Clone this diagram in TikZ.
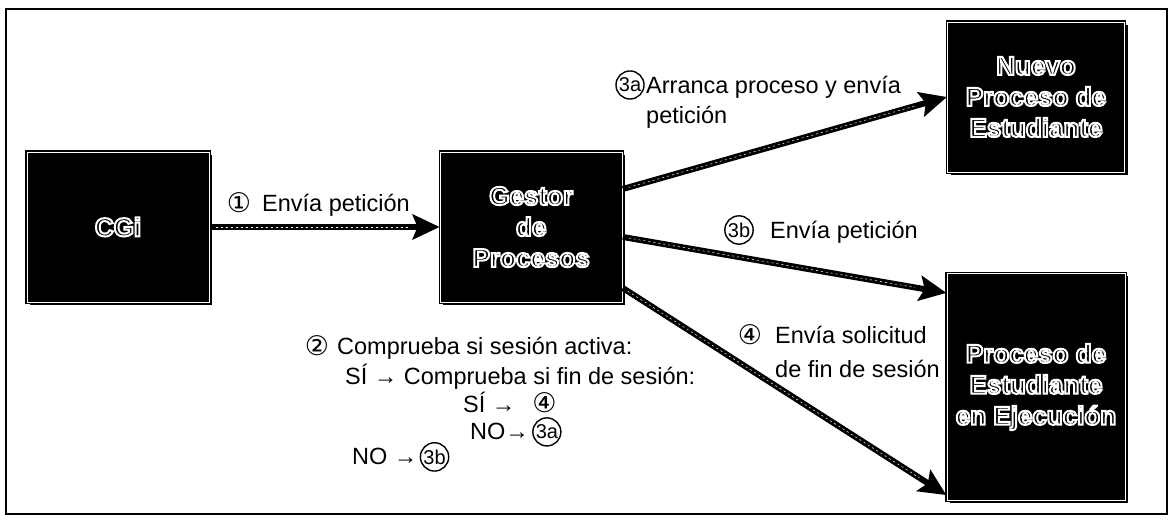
\documentclass[tikz,border=0pt]{standalone}
\usepackage{fontspec}
\setmainfont{Liberation Sans}
\newfontfamily\symfont{DejaVu Sans}
\usetikzlibrary{arrows.meta,positioning,calc,shadows}

% hollow lettering: glyph outlines stroked in white
\newcommand{\outl}[1]{\special{pdf:literal direct 1 Tr 2 w 1 1 1 RG}#1\special{pdf:literal direct 0 Tr}}

\begin{document}
\begin{tikzpicture}[x=1pt, y=1pt,
  procbox/.style={rectangle, fill=black, draw=black, double=white,
                  double distance=0.8pt, line width=1.2pt,
                  drop shadow={shadow xshift=3pt, shadow yshift=-3pt,
                               fill=black, opacity=1},
                  align=center, inner sep=0pt,
                  font=\bfseries\fontsize{26}{31}\selectfont},
  lbl/.style={inner sep=0pt, align=left, font=\fontsize{23.5}{30}\selectfont},
  numlbl/.style={inner sep=0pt, font=\symfont\fontsize{27}{27}\selectfont},
  circlbl/.style={circle, draw=black, line width=1.4pt, inner sep=0.6pt,
                  font=\fontsize{20}{20}\selectfont},
  bigarr/.style={-{Stealth[length=27pt, width=25pt, inset=5pt]}, line width=6pt,
                 postaction={draw=white, -, line width=0.5pt,
                             dash pattern=on 2pt off 3pt,
                             shorten >=32pt, shorten <=6pt}}
]

\useasboundingbox (0,0) rectangle (1173,524);
\draw[line width=2pt] (6,10) rectangle (1167,515);

%% boxes
\node[procbox, minimum width=182pt, minimum height=150pt] (cgi) at (118,297) {\outl{CGi}};
\node[procbox, minimum width=182pt, minimum height=150pt, right=230pt of cgi] (gestor)
  {\outl{Gestor}\\\outl{de}\\\outl{Procesos}};
\node[procbox, minimum width=177pt, minimum height=150pt] (nuevo) at (1036,427)
  {\outl{Nuevo}\\\outl{Proceso de}\\\outl{Estudiante}};
\node[procbox, minimum width=178pt, minimum height=227pt] (proceso) at (1036,137)
  {\outl{Proceso de}\\\outl{Estudiante}\\\outl{en Ejecución}};

%% arrows
\draw[bigarr] (cgi) -- (gestor);
\draw[bigarr] ($(gestor.east)+(0,38)$) -- (nuevo.west);
\draw[bigarr] ($(gestor.east)+(0,-10)$) -- ($(proceso.north west)+(0,-20)$);
\draw[bigarr] ($(gestor.east)+(0,-61)$) -- ($(proceso.south west)+(0,6)$);

%% arrow labels
\node[numlbl] (m1) at (239,321) {①};
\node[lbl, anchor=base west] (l1) at (262,312.5) {Envía petición};

\node[circlbl] (m3a) at (630,439) {3a};
\node[lbl, anchor=base west] (l3a) at (646,400.5) {Arranca proceso y envía\\petición};

\node[circlbl] (m3b) at (739,294) {3b};
\node[lbl, anchor=base west] (l3b) at (770,285.5) {Envía petición};

\node[numlbl] (m4) at (750,189) {④};
\node[lbl, anchor=base west, font=\fontsize{23.5}{34}\selectfont] (l4) at (775,146.5)
  {Envía solicitud\\de fin de sesión};

%% decision note
\node[numlbl] (m2) at (317,178) {②};
\node[lbl, anchor=base west] (l2a) at (337,169.5) {Comprueba si sesión activa:};
\node[lbl, anchor=base west] (l2b) at (345,139.5) {SÍ → Comprueba si fin de sesión:};
\node[lbl, anchor=base west] (l2c) at (463,111.5) {SÍ → };
\node[numlbl, right=10pt of l2c] (m4b) {④};
\node[lbl, anchor=base west] (l2d) at (470,84) {NO→};
\node[circlbl, right=3pt of l2d] (c3a) {3a};
\node[lbl, anchor=base west] (l2e) at (352,59) {NO →};
\node[circlbl, right=2pt of l2e] (c3b) {3b};

\end{tikzpicture}
\end{document}
